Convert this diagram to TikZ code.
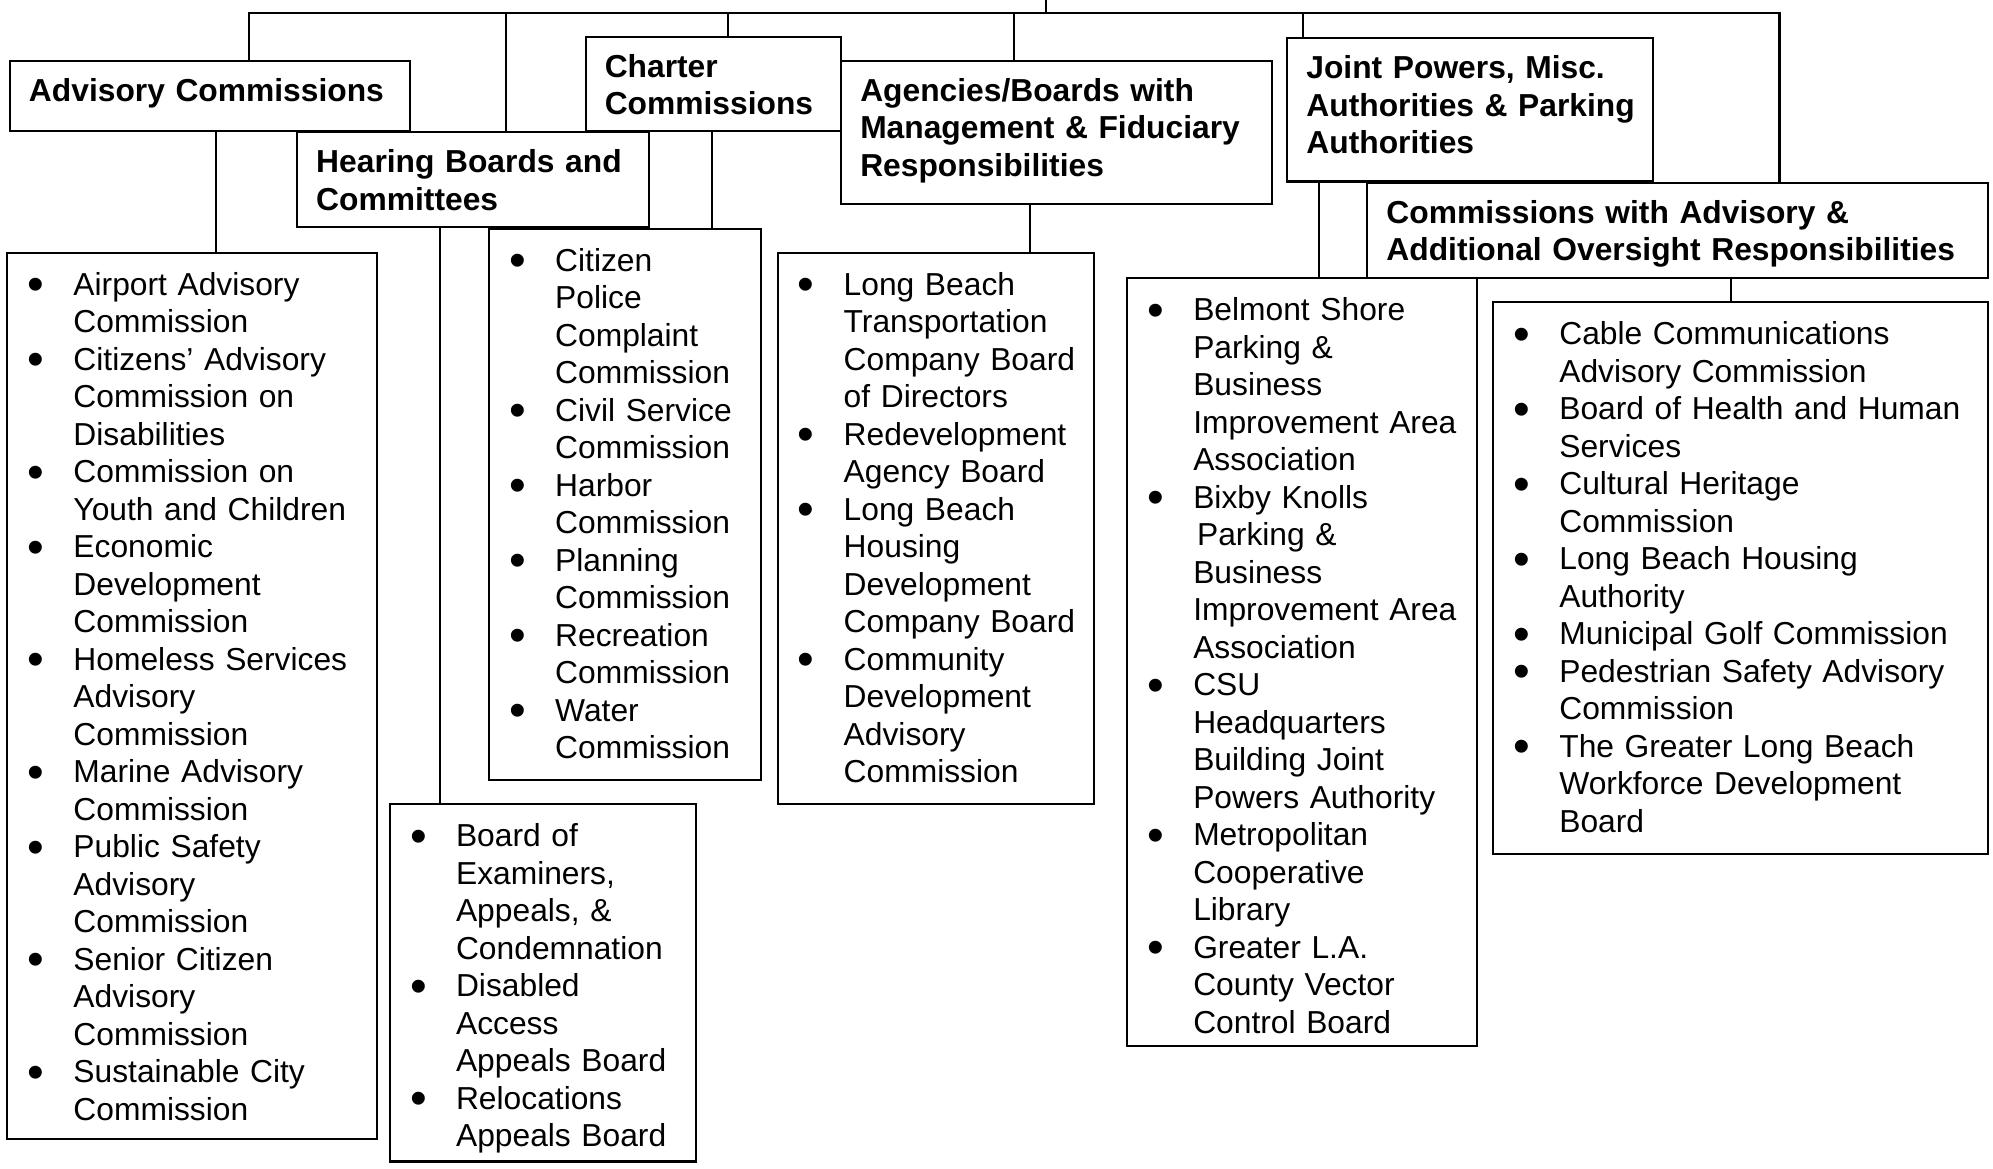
\documentclass[tikz,border=0pt]{standalone}
\usepackage{fontspec}
\setmainfont{Liberation Sans}
\usepackage{graphicx}
\usepackage{tikz}

\tikzset{
  headbox/.style={draw, line width=0.8pt, anchor=north west, align=left,
    inner xsep=7.5pt, inner ysep=0pt, text height=16pt,
    font=\fontsize{12.5pt}{14.75pt}\selectfont\bfseries},
  listbox/.style={draw, line width=0.8pt, anchor=north west, align=left,
    inner xsep=9pt, inner ysep=0pt, text height=16.75pt,
    font=\fontsize{12.5pt}{14.75pt}\selectfont},
  link/.style={line width=0.8pt}
}
\newcommand{\rows}[1]{\begin{tabular}[t]{@{}l@{}}#1\end{tabular}}
\newcommand{\bitems}[1]{\begin{tabular}[t]{@{}p{17pt}@{}l@{}}#1\end{tabular}}
\newcommand{\dotmark}{\hspace*{-1pt}\smash{\raisebox{-2.2pt}{\scalebox{1.5}{\textbullet}}}}

\begin{document}
\begin{tikzpicture}[x=0.5pt,y=-0.5pt]
\path[use as bounding box, fill=white] (0,0) rectangle (1568,919);

% headings
\node[headbox, text width=142.5pt, text depth=11.5pt] (h1) at (7,47) {\rows{Advisory Commissions}};
\node[headbox, text width=123.5pt, text depth=21.5pt] (h2) at (233,103) {\rows{Hearing Boards and\\Committees}};
\node[headbox, text width=85.5pt, text depth=21pt] (h3) at (460,28) {\rows{Charter\\Commissions}};
\node[headbox, text width=154.5pt, text depth=40.5pt] (h4) at (661,47) {\rows{Agencies/Boards with\\Management \& Fiduciary\\Responsibilities}};
\node[headbox, text width=129pt, text depth=40.5pt] (h5) at (1012,29) {\rows{Joint Powers, Misc.\\Authorities \& Parking\\Authorities}};
\node[headbox, text width=229pt, text depth=21.5pt] (h6) at (1075,143) {\rows{Commissions with Advisory \&\\Additional Oversight Responsibilities}};

% member lists
\node[listbox, text width=127.5pt, text depth=331.75pt] (l1) at (5,198) {\bitems{
\dotmark & Airport Advisory\\
 & Commission\\
\dotmark & Citizens’ Advisory\\
 & Commission on\\
 & Disabilities\\
\dotmark & Commission on\\
 & Youth and Children\\
\dotmark & Economic\\
 & Development\\
 & Commission\\
\dotmark & Homeless Services\\
 & Advisory\\
 & Commission\\
\dotmark & Marine Advisory\\
 & Commission\\
\dotmark & Public Safety\\
 & Advisory\\
 & Commission\\
\dotmark & Senior Citizen\\
 & Advisory\\
 & Commission\\
\dotmark & Sustainable City\\
 & Commission}};
\node[listbox, text width=102.5pt, text depth=123.75pt] (l2) at (306,632) {\bitems{
\dotmark & Board of\\
 & Examiners,\\
 & Appeals, \&\\
 & Condemnation\\
\dotmark & Disabled\\
 & Access\\
 & Appeals Board\\
\dotmark & Relocations\\
 & Appeals Board}};
\node[listbox, text width=89pt, text depth=200.25pt] (l3) at (384,179) {\bitems{
\dotmark & Citizen\\
 & Police\\
 & Complaint\\
 & Commission\\
\dotmark & Civil Service\\
 & Commission\\
\dotmark & Harbor\\
 & Commission\\
\dotmark & Planning\\
 & Commission\\
\dotmark & Recreation\\
 & Commission\\
\dotmark & Water\\
 & Commission}};
\node[listbox, text width=106.5pt, text depth=200.25pt] (l4) at (611,198) {\bitems{
\dotmark & Long Beach\\
 & Transportation\\
 & Company Board\\
 & of Directors\\
\dotmark & Redevelopment\\
 & Agency Board\\
\dotmark & Long Beach\\
 & Housing\\
 & Development\\
 & Company Board\\
\dotmark & Community\\
 & Development\\
 & Advisory\\
 & Commission}};
\node[listbox, text width=119.5pt, text depth=285.25pt] (l5) at (886,218) {\bitems{
\dotmark & Belmont Shore\\
 & Parking \&\\
 & Business\\
 & Improvement Area\\
 & Association\\
\dotmark & Bixby Knolls\\
 & \hspace{1.5pt}Parking \&\\
 & Business\\
 & Improvement Area\\
 & Association\\
\dotmark & CSU\\
 & Headquarters\\
 & Building Joint\\
 & Powers Authority\\
\dotmark & Metropolitan\\
 & Cooperative\\
 & Library\\
\dotmark & Greater L.A.\\
 & County Vector\\
 & Control Board}};
\node[listbox, text width=176.5pt, text depth=200.25pt] (l6) at (1174,237) {\bitems{
\dotmark & Cable Communications\\
 & Advisory Commission\\
\dotmark & Board of Health and Human\\
 & Services\\
\dotmark & Cultural Heritage\\
 & Commission\\
\dotmark & Long Beach Housing\\
 & Authority\\
\dotmark & Municipal Golf Commission\\
\dotmark & Pedestrian Safety Advisory\\
 & Commission\\
\dotmark & The Greater Long Beach\\
 & Workforce Development\\
 & Board}};

% top bus
\coordinate (root) at (823,0);
\coordinate (bus) at (823,10);
\coordinate (b1) at (196,10);
\coordinate (b2) at (398,10);
\coordinate (b3) at (573,10);
\coordinate (b4) at (798,10);
\coordinate (b5) at (1025,10);
\coordinate (b6) at (1400,10);
\draw[link] (root) -- (bus);
\draw[link] (b1 |- h1.north) -- (b1) -- (b6) -- (b6 |- h6.north);
\draw[link] (b2) -- (b2 |- h2.north);
\draw[link] (b3) -- (b3 |- h3.north);
\draw[link] (b4) -- (b4 |- h4.north);
\draw[link] (b5) -- (b5 |- h5.north);

% heading to list
\coordinate (c1) at (170,0);
\coordinate (c2) at (346,0);
\coordinate (c3) at (560,0);
\coordinate (c4) at (810,0);
\coordinate (c5) at (1038,0);
\coordinate (c6) at (1362,0);
\draw[link] (c1 |- h1.south) -- (c1 |- l1.north);
\draw[link] (c2 |- h2.south) -- (c2 |- l2.north);
\draw[link] (c3 |- h3.south) -- (c3 |- l3.north);
\draw[link] (c4 |- h4.south) -- (c4 |- l4.north);
\draw[link] (c5 |- h5.south) -- (c5 |- l5.north);
\draw[link] (c6 |- h6.south) -- (c6 |- l6.north);
\end{tikzpicture}
\end{document}
